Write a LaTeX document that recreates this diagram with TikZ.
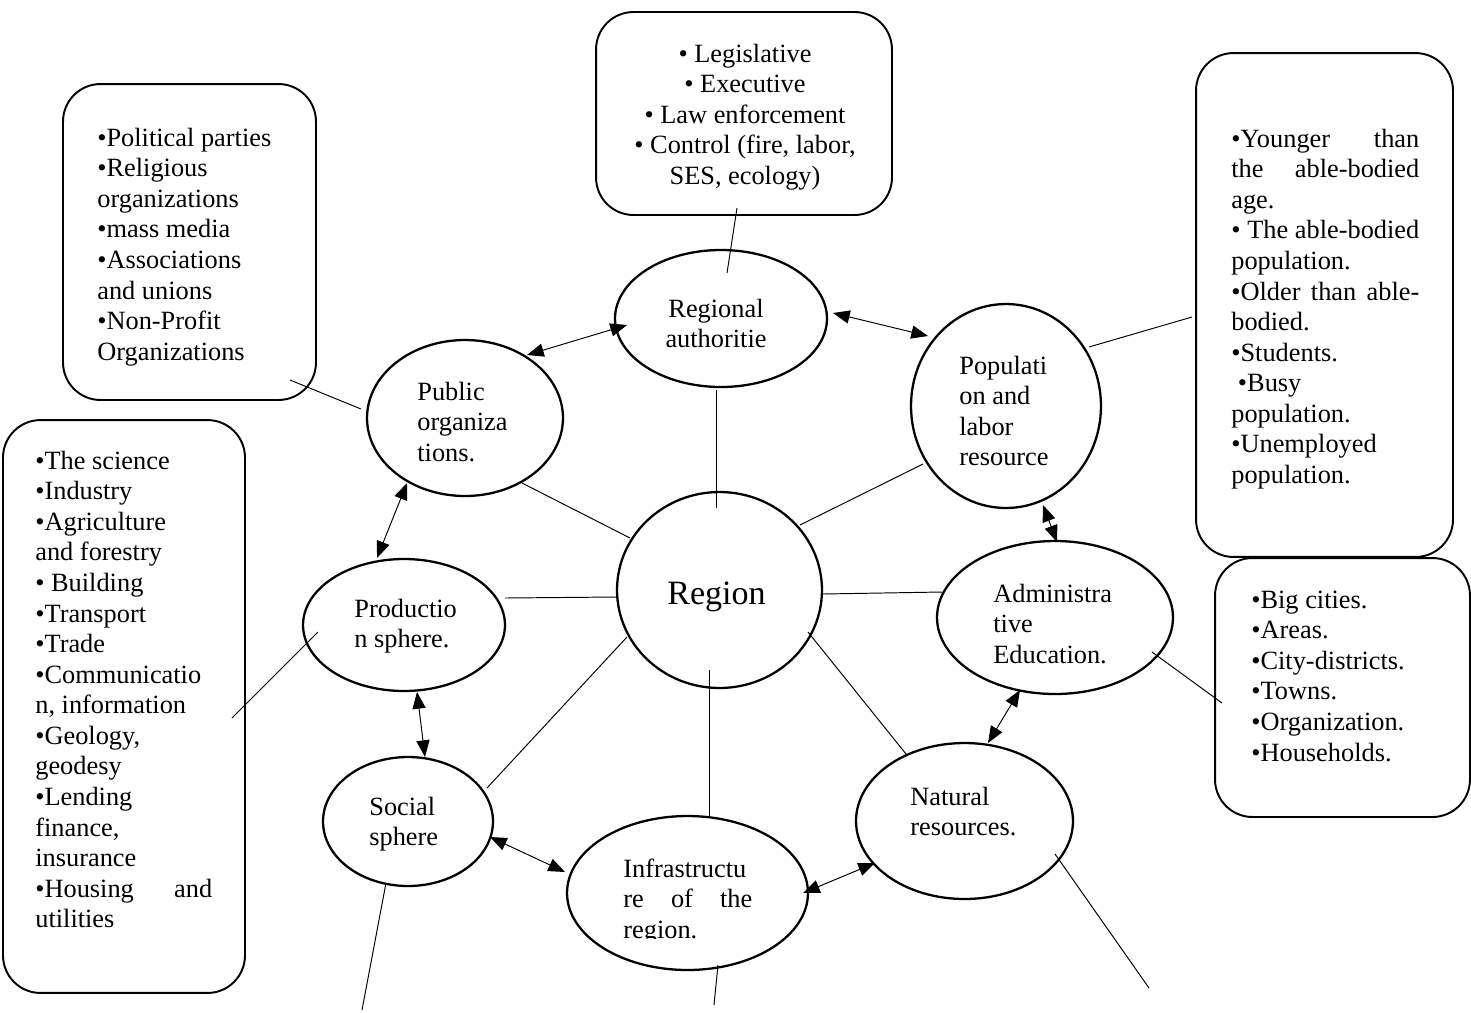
\documentclass[tikz,border=0pt]{standalone}
\usepackage{fontspec}
\setmainfont{Liberation Serif}
\usetikzlibrary{arrows.meta,shapes.geometric}
\begin{document}
\begin{tikzpicture}[x=0.02cm,y=-0.02cm,
  oval/.style={draw,ellipse,line width=1.3pt,inner sep=0pt},
  rbox/.style={draw,rectangle,rounded corners=0.75cm,line width=1.1pt,inner sep=0pt},
  conn/.style={line width=0.55pt},
  twoway/.style={line width=0.55pt,{Triangle[length=9.5pt,width=7.5pt]}-{Triangle[length=9.5pt,width=7.5pt]}},
  txt/.style={font=\fontsize{15}{17.4}\selectfont,inner sep=0pt,align=left,anchor=north west},
  ctxt/.style={font=\fontsize{15}{17.4}\selectfont,inner sep=0pt,align=center,anchor=north},
]
\useasboundingbox (0,0) rectangle (1471,1012);

% boxes
\node[rbox,minimum width=5.92cm,minimum height=4.06cm] (bgov) at (744,113.5) {};
\node[rbox,minimum width=5.06cm,minimum height=6.32cm] (bpub) at (189.5,242) {};
\node[rbox,minimum width=4.84cm,minimum height=11.46cm] (bprod) at (124,706.5) {};
\node[rbox,minimum width=5.14cm,minimum height=10.08cm] (bpop) at (1324.5,305) {};
\node[rbox,minimum width=5.10cm,minimum height=5.18cm] (badm) at (1342.5,687.5) {};

% ellipses
\node[oval,minimum width=4.24cm,minimum height=2.74cm] (auth) at (721,318.5) {};
\node[oval,minimum width=3.92cm,minimum height=3.12cm] (pub) at (465,418) {};
\node[oval,minimum width=3.80cm,minimum height=4.08cm] (pop) at (1006,406) {};
\node[oval,minimum width=4.04cm,minimum height=2.64cm] (prod) at (404,625) {};
\node[oval,minimum width=4.72cm,minimum height=3.06cm] (adm) at (1055,617.5) {};
\node[oval,minimum width=4.34cm,minimum height=3.12cm] (nat) at (964.5,821) {};
\node[oval,minimum width=3.40cm,minimum height=2.58cm] (soc) at (408,821.5) {};
\node[oval,minimum width=4.82cm,minimum height=3.08cm] (inf) at (687.5,893) {};
\node[oval,minimum width=4.10cm,minimum height=3.92cm] (reg) at (719.5,590) {};

% ellipse texts
\node[font=\fontsize{19.4}{23}\selectfont,inner sep=0pt,anchor=base] (treg) at (716.5,604) {Region};
\node[ctxt] (tauth) at (716,295.5) {\strut Regional\\authoritie};
\node[txt] (tpub) at (417,378.5) {\strut Public\\organiza\\tions.};
\node[txt] (tpop) at (959,352.5) {\strut Populati\\on and\\labor\\resource};
\node[txt] (tprod) at (354,595.5) {\strut Productio\\n sphere.};
\node[txt] (tadm) at (993,580.5) {\strut Administra\\tive\\Education.};
\node[txt] (tnat) at (910,783.5) {\strut Natural\\resources.};
\node[txt] (tsoc) at (369,793.5) {\strut Social\\sphere};
\begin{scope}
\clip (560,840) rectangle (830,938);
\node[txt] (tinf) at (623,855.5) {\strut Infrastructu\\\makebox[2.58cm][s]{re of the}\\region.};
\end{scope}

% box texts
\node[ctxt] (tgov) at (745,40.5) {\strut• Legislative\\• Executive\\• Law enforcement\\• Control (fire, labor,\\SES, ecology)};
\node[txt] (tbpub) at (97,124.5) {\strut•Political parties\\•Religious\\organizations\\•mass media\\•Associations\\and unions\\•Non-Profit\\Organizations};
\node[txt] (tbprod) at (35,447.5) {\strut•The science\\•Industry\\•Agriculture\\and forestry\\• Building\\•Transport\\•Trade\\•Communicatio\\n, information\\•Geology,\\geodesy\\•Lending\\finance,\\insurance\\\makebox[3.54cm][s]{•Housing and}\\utilities};
\node[txt] (tbpop) at (1231,125.5) {\strut\makebox[3.76cm][s]{•Younger than}\\\makebox[3.76cm][s]{the able-bodied}\\age.\\\makebox[3.76cm][s]{• The able-bodied}\\population.\\\makebox[3.76cm][s]{•Older than able-}\\bodied.\\•Students.\\\hspace*{0.25em}•Busy\\population.\\•Unemployed\\population.};
\node[txt] (tbadm) at (1251,586.5) {\strut•Big cities.\\•Areas.\\•City-districts.\\•Towns.\\•Organization.\\•Households.};

% connector end points
\coordinate (a1) at (737,208); \coordinate (a2) at (727,273);
\coordinate (a3) at (716.5,390); \coordinate (a4) at (716.5,508);
\coordinate (a5) at (290,380); \coordinate (a6) at (361,409);
\coordinate (a7) at (522,483); \coordinate (a8) at (630,538);
\coordinate (a9) at (505,598); \coordinate (a10) at (617,597);
\coordinate (a11) at (232,718); \coordinate (a12) at (318,632);
\coordinate (a13) at (627,637); \coordinate (a14) at (487,788);
\coordinate (a15) at (386,883); \coordinate (a16) at (362,1010);
\coordinate (a17) at (709.5,670); \coordinate (a18) at (709.5,816);
\coordinate (a19) at (718,965); \coordinate (a20) at (714,1005);
\coordinate (a21) at (808,632); \coordinate (a22) at (906,754);
\coordinate (a23) at (1055,854); \coordinate (a24) at (1149,988);
\coordinate (a25) at (823,594); \coordinate (a26) at (942,592);
\coordinate (a27) at (1152,652); \coordinate (a28) at (1222,703);
\coordinate (a29) at (800,525); \coordinate (a30) at (923,464);
\coordinate (a31) at (1089,347); \coordinate (a32) at (1192,317);

\draw[conn] (a1) -- (a2);
\draw[conn] (a3) -- (a4);
\draw[conn] (a5) -- (a6);
\draw[conn] (a7) -- (a8);
\draw[conn] (a9) -- (a10);
\draw[conn] (a11) -- (a12);
\draw[conn] (a13) -- (a14);
\draw[conn] (a15) -- (a16);
\draw[conn] (a17) -- (a18);
\draw[conn] (a19) -- (a20);
\draw[conn] (a21) -- (a22);
\draw[conn] (a23) -- (a24);
\draw[conn] (a25) -- (a26);
\draw[conn] (a27) -- (a28);
\draw[conn] (a29) -- (a30);
\draw[conn] (a31) -- (a32);

% double arrows
\coordinate (b1) at (527,355); \coordinate (b2) at (627,325);
\coordinate (b3) at (833,313); \coordinate (b4) at (928,336);
\coordinate (b5) at (407,483); \coordinate (b6) at (377,558);
\coordinate (b7) at (417,692); \coordinate (b8) at (425,757);
\coordinate (b9) at (1043,505); \coordinate (b10) at (1057,542);
\coordinate (b11) at (1020,690); \coordinate (b12) at (988,743);
\coordinate (b13) at (490,837); \coordinate (b14) at (565,872);
\coordinate (b15) at (803,893); \coordinate (b16) at (875,863);

\draw[twoway] (b1) -- (b2);
\draw[twoway] (b3) -- (b4);
\draw[twoway] (b5) -- (b6);
\draw[twoway] (b7) -- (b8);
\draw[twoway] (b9) -- (b10);
\draw[twoway] (b11) -- (b12);
\draw[twoway] (b13) -- (b14);
\draw[twoway] (b15) -- (b16);
\end{tikzpicture}
\end{document}
